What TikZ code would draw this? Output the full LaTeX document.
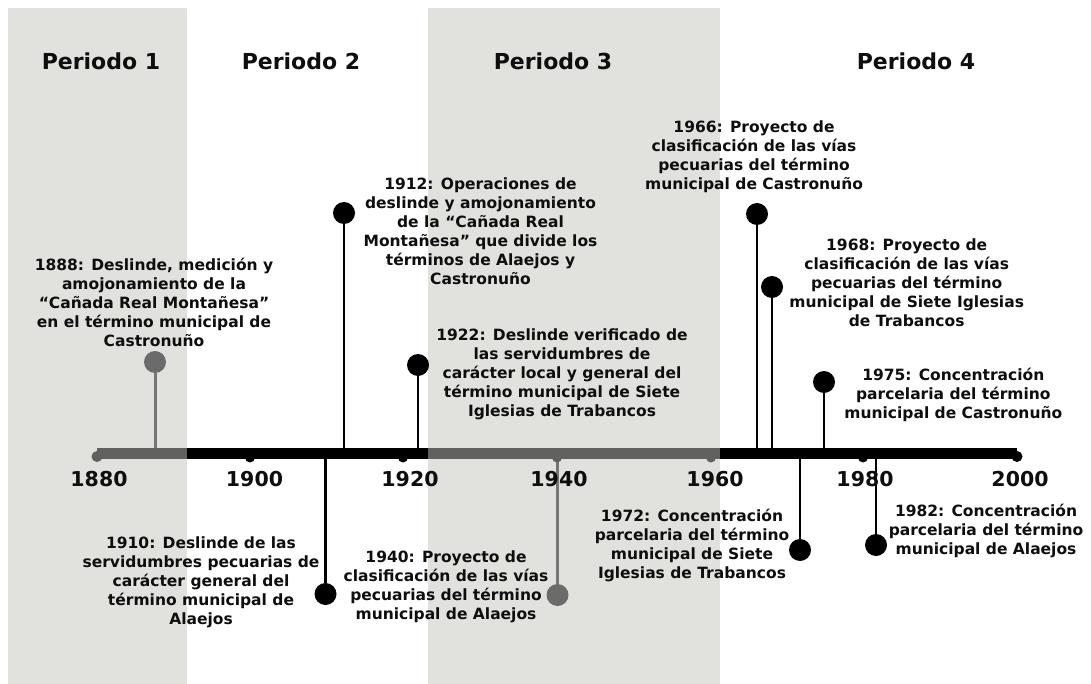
\documentclass[tikz,border=0pt]{standalone}
\usepackage{fontspec}
\setmainfont{DejaVu Sans}
\definecolor{band}{HTML}{E1E1DE}
\definecolor{barg}{HTML}{616160}
\definecolor{dotgray}{HTML}{6B6B6B}
\definecolor{stemgray}{HTML}{767676}
\definecolor{txt}{HTML}{0E0E0E}
\begin{document}
\begin{tikzpicture}[x=1pt,y=-1pt,
  lbl/.style={font=\bfseries\fontsize{15.5}{19}\selectfont, text=txt, align=center, inner sep=0pt},
  per/.style={font=\bfseries\fontsize{22}{26}\selectfont, text=txt, anchor=base, inner sep=0pt},
  yr/.style={font=\bfseries\fontsize{20.5}{24}\selectfont, text=txt, anchor=base, inner sep=0pt},
  dotk/.style={circle, fill=black, minimum size=22pt, inner sep=0pt},
  dotg/.style={circle, fill=dotgray, minimum size=22pt, inner sep=0pt},
  stemk/.style={draw=black, line width=2.2pt},
  stemg/.style={draw=stemgray, line width=3pt},
  tickk/.style={fill=black},
  tickg/.style={fill=barg}]
\useasboundingbox (0,0) rectangle (1091,684);
\fill[white] (0,0) rectangle (1091,684);
% period bands
\fill[band] (8,8) rectangle (187,684);
\fill[band] (428,8) rectangle (720,684);
% period titles
\node[per] (p1) at (101,70) {Periodo 1};
\node[per] (p2) at (301,70) {Periodo 2};
\node[per] (p3) at (553,70) {Periodo 3};
\node[per] (p4) at (916,70) {Periodo 4};
% events: dots
\node[dotg] (e1888) at (155,362) {};
\node[dotk] (e1912) at (344,213) {};
\node[dotk] (e1922) at (418,365) {};
\node[dotk] (e1966) at (757,214) {};
\node[dotk] (e1968) at (772,287) {};
\node[dotk] (e1975) at (824,382) {};
\node[dotk] (e1910) at (325.5,594) {};
\node[dotg] (e1940) at (557.5,595) {};
\node[dotk] (e1972) at (800,550) {};
\node[dotk] (e1982) at (876,545) {};
% axis anchor coordinates
\coordinate (a1888) at (155,452);
\coordinate (a1912) at (344,452);
\coordinate (a1922) at (418,452);
\coordinate (a1966) at (757,452);
\coordinate (a1968) at (772,452);
\coordinate (a1975) at (824,452);
\coordinate (a1910) at (325.5,455);
\coordinate (a1940) at (557.5,455);
\coordinate (a1972) at (800,455);
\coordinate (a1982) at (876,455);
% stems
\draw[stemg] (e1888) -- (a1888);
\draw[stemk] (e1912) -- (a1912);
\draw[stemk] (e1922) -- (a1922);
\draw[stemk] (e1966) -- (a1966);
\draw[stemk] (e1968) -- (a1968);
\draw[stemk] (e1975) -- (a1975);
\draw[stemk] (a1910) -- (e1910);
\draw[stemg] (a1940) -- (e1940);
\draw[stemk] (a1972) -- (e1972);
\draw[stemk] (a1982) -- (e1982);
% axis bar
\fill[barg] (97,448) rectangle (187,459);
\fill[black] (187,448) rectangle (428,459);
\fill[barg] (428,448) rectangle (720,459);
\fill[black] (720,448) rectangle (1017,459);
\fill[barg] (97,456.5) circle (5.5);
\fill[black] (1017,456.5) circle (5.5);
\fill[tickk] (250,457.5) circle (5);
\fill[tickk] (403,457.5) circle (5);
\fill[tickg] (557,457.5) circle (5);
\fill[tickg] (711,457.5) circle (5);
\fill[tickk] (863,457.5) circle (5);
% years
\node[yr] (y1880) at (99,486) {1880};
\node[yr] (y1900) at (254.5,486) {1900};
\node[yr] (y1920) at (410,486) {1920};
\node[yr] (y1940) at (559,486) {1940};
\node[yr] (y1960) at (715,486) {1960};
\node[yr] (y1980) at (865,486) {1980};
\node[yr] (y2000) at (1020,486) {2000};
% labels
\node[lbl] (t1888) at (154,302.7) {1888: Deslinde, medición y\\amojonamiento de la\\“Cañada Real Montañesa”\\en el término municipal de\\Castronuño};
\node[lbl] (t1912) at (480.5,231.7) {1912: Operaciones de\\deslinde y amojonamiento\\de la “Cañada Real\\Montañesa” que divide los\\términos de Alaejos y\\Castronuño};
\node[lbl] (t1922) at (562,374.5) {1922: Deslinde verificado de\\las servidumbres de\\carácter local y general del\\término municipal de Siete\\Iglesias de Trabancos};
\node[lbl] (t1966) at (754,156.7) {1966: Proyecto de\\clasificación de las vías\\pecuarias del término\\municipal de Castronuño};
\node[lbl] (t1968) at (906.7,282.5) {1968: Proyecto de\\clasificación de las vías\\pecuarias del término\\municipal de Siete Iglesias\\de Trabancos};
\node[lbl] (t1975) at (953.3,395) {1975: Concentración\\parcelaria del término\\municipal de Castronuño};
\node[lbl] (t1910) at (201,582.5) {1910: Deslinde de las\\servidumbres pecuarias de\\carácter general del\\término municipal de\\Alaejos};
\node[lbl] (t1940) at (446,587) {1940: Proyecto de\\clasificación de las vías\\pecuarias del término\\municipal de Alaejos};
\node[lbl] (t1972) at (692,545.5) {1972: Concentración\\parcelaria del término\\municipal de Siete\\Iglesias de Trabancos};
\node[lbl] (t1982) at (986,531) {1982: Concentración\\parcelaria del término\\municipal de Alaejos};
\end{tikzpicture}
\end{document}
